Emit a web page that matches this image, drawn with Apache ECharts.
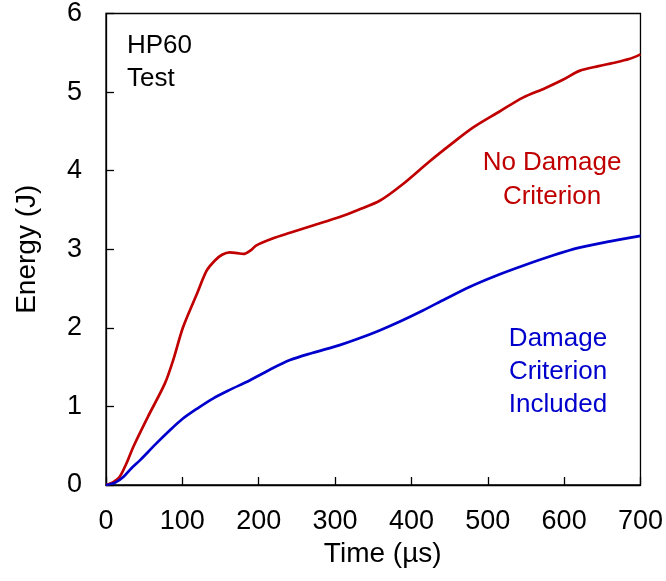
<!DOCTYPE html>
<html><head><meta charset="utf-8">
<script src="https://cdn.jsdelivr.net/npm/echarts@6/dist/echarts.min.js"></script>
<style>html,body{margin:0;padding:0;background:#fff}#c{width:666px;height:581px}</style>
</head><body><div id="c"></div>
<script>
const redTime = [0, 10, 18, 27, 36, 55, 77, 88, 101, 119, 132, 143, 152, 162, 172, 180, 190, 197, 219, 241, 270, 306, 330, 359, 389, 424, 455, 481, 515, 546, 575, 599, 620, 645, 664, 685, 700];
const redEnergy = [0, 0.04, 0.105, 0.28, 0.49, 0.87, 1.29, 1.59, 2.01, 2.43, 2.73, 2.86, 2.93, 2.96, 2.95, 2.94, 2.99, 3.05, 3.14, 3.21, 3.30, 3.41, 3.50, 3.62, 3.83, 4.12, 4.36, 4.55, 4.75, 4.93, 5.05, 5.16, 5.27, 5.33, 5.37, 5.42, 5.48];
const blueTime = [0, 12, 23, 33, 45, 65, 84, 100, 119, 140, 162, 188, 215, 241, 270, 306, 330, 359, 385, 415, 445, 476, 510, 546, 585, 620, 660, 700];
const blueEnergy = [0, 0.03, 0.105, 0.21, 0.32, 0.52, 0.70, 0.84, 0.97, 1.10, 1.21, 1.33, 1.47, 1.59, 1.68, 1.78, 1.86, 1.97, 2.08, 2.22, 2.37, 2.52, 2.66, 2.79, 2.92, 3.02, 3.10, 3.17];
const xTicks = [0, 100, 200, 300, 400, 500, 600, 700];
const yTicks = [0, 1, 2, 3, 4, 5, 6];
const xTitle = 'Time (µs)';
const yTitle = 'Energy (J)';
const redName = 'No Damage\nCriterion';
const blueName = 'Damage\nCriterion\nIncluded';
const testName = 'HP60\nTest';

const zip = (a, b) => a.map((v, i) => [v, b[i]]);
const font = 'Liberation Sans, Arial, sans-serif';
const chart = echarts.init(document.getElementById('c'), null, {renderer: 'canvas'});
const axisCommon = {
  axisLine: {show: true, lineStyle: {color: '#000', width: 1.3}},
  axisTick: {show: true, inside: true, length: 8, lineStyle: {color: '#000', width: 1.3}},
  splitLine: {show: false},
  axisLabel: {color: '#000', fontSize: 27, fontFamily: font},
  nameTextStyle: {color: '#000', fontSize: 28, fontFamily: font}
};
chart.setOption({
  animation: false,
  grid: {left: 106, right: 25.5, top: 12, bottom: 96, show: true, borderColor: '#000', borderWidth: 1.3},
  xAxis: Object.assign({}, axisCommon, {
    type: 'value', min: xTicks[0], max: xTicks[xTicks.length - 1], interval: 100,
    name: xTitle, nameLocation: 'middle', nameGap: 55,
    nameTextStyle: Object.assign({}, axisCommon.nameTextStyle, {padding: [0, 0, 0, 19]}),
    axisLabel: Object.assign({}, axisCommon.axisLabel, {margin: 23})
  }),
  yAxis: Object.assign({}, axisCommon, {
    type: 'value', min: yTicks[0], max: yTicks[yTicks.length - 1], interval: 1,
    name: yTitle, nameLocation: 'middle', nameGap: 65, nameRotate: 90,
    axisLabel: Object.assign({}, axisCommon.axisLabel, {margin: 24, padding: [3, 0, 0, 0]})
  }),
  series: [
    {type: 'line', name: 'No Damage Criterion', data: zip(redTime, redEnergy), smooth: 0.3, showSymbol: false,
     lineStyle: {color: '#C00000', width: 2.7}, z: 3},
    {type: 'line', name: 'Damage Criterion Included', data: zip(blueTime, blueEnergy), smooth: 0.3, showSymbol: false,
     lineStyle: {color: '#0000CC', width: 2.7}, z: 4}
  ],
  graphic: [
    {type: 'text', x: 127, y: 29, style: {text: testName, fill: '#000', font: '26px ' + font, lineHeight: 33, textAlign: 'left', textVerticalAlign: 'top'}},
    {type: 'text', x: 552, y: 146, style: {text: redName, fill: '#C00000', font: '26px ' + font, lineHeight: 34, textAlign: 'center', textVerticalAlign: 'top'}},
    {type: 'text', x: 558, y: 322, style: {text: blueName, fill: '#0000CC', font: '26px ' + font, lineHeight: 33, textAlign: 'center', textVerticalAlign: 'top'}}
  ]
});
</script></body></html>
